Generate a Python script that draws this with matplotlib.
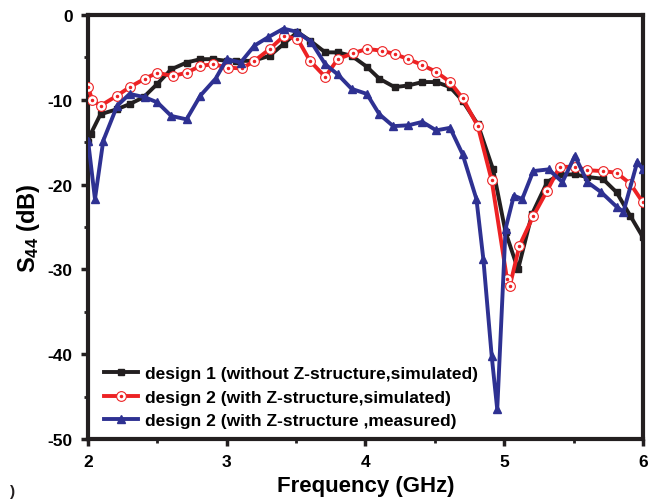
import matplotlib
matplotlib.use("Agg")
import matplotlib.pyplot as plt
from matplotlib.ticker import MultipleLocator
from matplotlib.legend_handler import HandlerTuple

plt.rcParams['font.family'] = ['Liberation Sans', 'DejaVu Sans']
plt.rcParams['font.weight'] = 'bold'
plt.rcParams['axes.unicode_minus'] = False
plt.rcParams['mathtext.fontset'] = 'custom'
plt.rcParams['mathtext.rm'] = 'Liberation Sans:bold'
plt.rcParams['mathtext.it'] = 'Liberation Sans:bold'
plt.rcParams['mathtext.bf'] = 'Liberation Sans:bold'

# design 1 (without Z-structure, simulated)
f1 = [2.00, 2.02, 2.09, 2.21, 2.30, 2.40, 2.50, 2.60, 2.71, 2.81, 2.90, 3.00, 3.07, 3.19, 3.31,
      3.41, 3.51, 3.60, 3.71, 3.80, 3.90, 4.01, 4.10, 4.21, 4.31, 4.41, 4.51, 4.61, 4.70, 4.81,
      4.92, 5.01, 5.10, 5.20, 5.31, 5.40, 5.51, 5.60, 5.71, 5.81, 5.91, 6.00]
s1 = [-15.0, -14.0, -11.7, -11.1, -10.5, -9.7, -8.1, -6.4, -5.6, -5.2, -5.2, -5.4, -5.4, -5.4, -4.8,
      -3.4, -2.0, -3.0, -4.4, -4.4, -4.8, -6.1, -7.5, -8.5, -8.3, -7.9, -7.9, -8.5, -10.1, -12.9,
      -18.2, -25.6, -30.0, -23.5, -19.7, -18.8, -18.8, -19.1, -19.3, -20.9, -23.7, -26.2]

# design 2 (with Z-structure, simulated)
f2 = [2.00, 2.03, 2.09, 2.21, 2.30, 2.41, 2.50, 2.61, 2.71, 2.81, 2.90, 3.01, 3.11, 3.20, 3.31,
      3.41, 3.51, 3.60, 3.71, 3.80, 3.91, 4.01, 4.12, 4.21, 4.31, 4.41, 4.51, 4.61, 4.70, 4.81,
      4.91, 5.02, 5.04, 5.11, 5.21, 5.31, 5.40, 5.51, 5.60, 5.71, 5.81, 5.91, 6.00]
s2 = [-8.5, -10.0, -10.7, -9.5, -8.5, -7.5, -6.8, -7.2, -6.8, -6.0, -5.8, -6.2, -6.3, -5.4, -4.0,
      -2.5, -2.8, -5.4, -7.3, -5.2, -4.5, -4.0, -4.2, -4.6, -5.2, -5.9, -6.7, -7.9, -9.8, -13.1,
      -19.5, -31.1, -32.0, -27.2, -23.7, -20.7, -17.9, -17.9, -18.3, -18.4, -18.6, -19.9, -22.1]

# design 2 (with Z-structure, measured)
f3 = [2.00, 2.05, 2.11, 2.21, 2.30, 2.41, 2.50, 2.60, 2.71, 2.81, 2.92, 3.00, 3.10, 3.20, 3.30,
      3.41, 3.51, 3.61, 3.71, 3.80, 3.90, 4.01, 4.10, 4.20, 4.31, 4.41, 4.51, 4.61, 4.70, 4.80,
      4.85, 4.91, 4.95, 5.01, 5.07, 5.13, 5.21, 5.32, 5.42, 5.51, 5.60, 5.70, 5.81, 5.86, 5.96, 6.00]
s3 = [-14.8, -21.7, -14.8, -10.7, -9.3, -9.7, -10.3, -11.9, -12.3, -9.5, -7.5, -5.2, -5.6, -3.6, -2.6,
      -1.6, -2.0, -3.2, -5.8, -7.0, -8.7, -9.3, -11.7, -13.1, -13.0, -12.6, -13.6, -13.3, -16.4, -21.7,
      -28.8, -40.2, -46.5, -25.2, -21.3, -21.7, -18.4, -18.2, -19.7, -16.6, -19.7, -20.9, -22.6, -23.2, -17.3, -18.2]

labels = ['design 1 (without Z-structure,simulated)',
          'design 2 (with Z-structure,simulated)',
          'design 2 (with Z-structure ,measured)']

fig = plt.figure(figsize=(6.54, 5.02), dpi=100)
ax = fig.add_axes([0.1346, 0.1235, 0.8484, 0.8445])

black = '#231f20'
red = '#ed2224'
blue = '#2e3192'

l1, = ax.plot(f1, s1, color=black, lw=2.8, marker='s', ms=5, mfc=black, mec=black, zorder=3)
l2, = ax.plot(f2, s2, color=red, lw=2.8, marker='o', ms=7, mfc='white', mec=red, mew=0.8, zorder=4)
l2d, = ax.plot(f2, s2, ls='none', marker='o', ms=1.5, color=red, zorder=5)
l3, = ax.plot(f3, s3, color=blue, lw=2.8, marker='^', ms=5.5, mfc=blue, mec=blue, zorder=6)

ax.set_xlim(2, 6)
ax.set_ylim(-50, 0)
ax.xaxis.set_major_locator(MultipleLocator(1))
ax.xaxis.set_minor_locator(MultipleLocator(0.5))
ax.yaxis.set_major_locator(MultipleLocator(10))
ax.yaxis.set_minor_locator(MultipleLocator(5))

for sp in ax.spines.values():
    sp.set_linewidth(3)
    sp.set_color(black)

ax.tick_params(which='major', direction='out', length=5, width=2.5, labelsize=12.5, color=black, pad=6)
ax.tick_params(which='minor', direction='out', length=3, width=2, color=black)
for lab in ax.get_xticklabels() + ax.get_yticklabels():
    lab.set_fontweight('bold')

ax.set_xlabel('Frequency (GHz)', fontsize=16, fontweight='bold', labelpad=4)
ax.set_ylabel(r'S$_{44}$ (dB)', fontsize=17, fontweight='bold', labelpad=4)

leg = ax.legend([l1, (l2, l2d), l3], labels, loc='lower left',
                bbox_to_anchor=(0.0, -0.012), frameon=False,
                prop={'weight': 'bold', 'size': 12.5},
                handler_map={tuple: HandlerTuple(ndivide=1, pad=0)},
                handlelength=2.0, handletextpad=0.4, labelspacing=0.5)

fig.text(0.015, 0.012, ')', fontsize=11, fontweight='bold', color=black)

fig.savefig('out.png', dpi=100)
